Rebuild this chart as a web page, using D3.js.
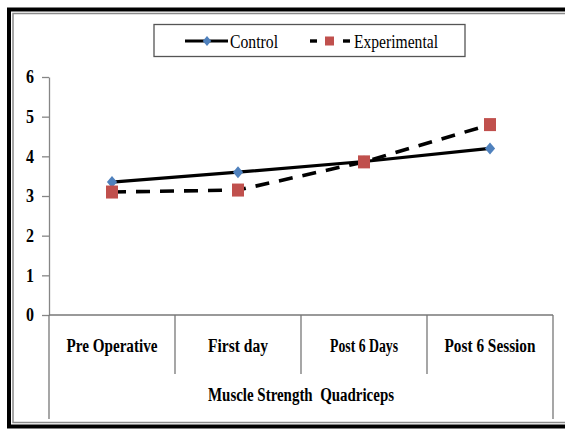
<!DOCTYPE html>
<html>
<head>
<meta charset="utf-8">
<script src="https://cdn.jsdelivr.net/npm/d3@7"></script>
<style>
  html, body { margin: 0; padding: 0; background: #fff; }
  svg { display: block; }
  text { font-family: "Liberation Serif", "Times New Roman", serif; fill: #000; }
</style>
</head>
<body>
<svg id="chart" width="565" height="429"></svg>
<script>
// chart values
const categories = ['Pre Operative', 'First day', 'Post 6 Days', 'Post 6 Session'];
const control = [3.35, 3.6, 3.87, 4.2];
const experimental = [3.1, 3.15, 3.86, 4.8];
const yTicks = [0, 1, 2, 3, 4, 5, 6];
const axisTitle = 'Muscle Strength  Quadriceps';

// label widths in the picture (text is drawn narrow)
const catWidths = [91, 60, 68, 91];

const svg = d3.select('#chart');
const plotLeft = 49, plotRight = 553, plotTop = 77, plotBottom = 315;

const x = d3.scaleBand().domain(categories).range([plotLeft, plotRight]).padding(0);
const y = d3.scaleLinear().domain([0, 6]).range([plotBottom, plotTop]);
const bw = x.bandwidth();
const cx = (d) => x(d) + bw / 2;

// frame
svg.append('rect')
  .attr('x', 9).attr('y', 9.5)
  .attr('width', 640).attr('height', 417)
  .attr('fill', 'none').attr('stroke', '#000').attr('stroke-width', 4);
svg.append('rect')
  .attr('x', 13).attr('y', 13.5)
  .attr('width', 640).attr('height', 409)
  .attr('fill', 'none').attr('stroke', '#8a8a8a').attr('stroke-width', 1.5);

// y axis
const yAxis = svg.append('g')
  .attr('transform', `translate(${plotLeft},0)`)
  .call(d3.axisLeft(y)
    .tickValues(yTicks)
    .tickFormat(d3.format('d'))
    .tickSize(7)
    .tickSizeOuter(0)
    .tickPadding(8));
yAxis.select('.domain').attr('stroke', '#868686').attr('stroke-width', 1.3);
yAxis.selectAll('.tick line').attr('stroke', '#868686').attr('stroke-width', 1.3);
yAxis.selectAll('.tick text')
  .attr('font-family', '"Liberation Serif", serif')
  .attr('font-size', 18)
  .attr('font-weight', 'bold')
  .attr('fill', '#000')
  .attr('dy', '0.33em')
  .attr('textLength', 8)
  .attr('lengthAdjust', 'spacingAndGlyphs');

// x axis as a table
const xg = svg.append('g').attr('stroke', '#777').attr('stroke-width', 1.3);
xg.append('line')
  .attr('x1', plotLeft).attr('x2', plotRight)
  .attr('y1', plotBottom).attr('y2', plotBottom);
const edges = categories.map(d => x(d)).concat([x.range()[1]]);
xg.selectAll('.div')
  .data(edges)
  .enter()
    .append('line')
    .attr('x1', d => d).attr('x2', d => d)
    .attr('y1', plotBottom)
    .attr('y2', (d, i) => (i === 0 || i === edges.length - 1) ? 419 : 374);

svg.selectAll('.cat')
  .data(categories)
  .enter()
    .append('text')
    .attr('x', d => cx(d))
    .attr('y', 352)
    .attr('text-anchor', 'middle')
    .attr('font-size', 18)
    .attr('font-weight', 'bold')
    .attr('textLength', (d, i) => catWidths[i])
    .attr('lengthAdjust', 'spacingAndGlyphs')
    .text(d => d);

svg.append('text')
  .attr('x', (plotLeft + plotRight) / 2)
  .attr('y', 401)
  .attr('text-anchor', 'middle')
  .attr('font-size', 18)
  .attr('font-weight', 'bold')
  .attr('textLength', 186)
  .attr('lengthAdjust', 'spacingAndGlyphs')
  .style('white-space', 'pre')
  .text(axisTitle);

// series
const line = d3.line()
  .x((d, i) => cx(categories[i]))
  .y(d => y(d));

const diamond = (s) => `M0,${-s}L${s * 0.85},0L0,${s}L${-s * 0.85},0Z`;

svg.append('path')
  .datum(control)
  .attr('d', line)
  .attr('fill', 'none')
  .attr('stroke', '#000')
  .attr('stroke-width', 3.2);
svg.selectAll('.ctl')
  .data(control)
  .enter()
    .append('path')
    .attr('d', diamond(6))
    .attr('transform', (d, i) => `translate(${cx(categories[i])},${y(d)})`)
    .attr('fill', '#4f81bd');

svg.append('path')
  .datum(experimental)
  .attr('d', line)
  .attr('fill', 'none')
  .attr('stroke', '#000')
  .attr('stroke-width', 3.6)
  .attr('stroke-dasharray', '14,10');
svg.selectAll('.exp')
  .data(experimental)
  .enter()
    .append('rect')
    .attr('x', (d, i) => cx(categories[i]) - 6)
    .attr('y', d => y(d) - 6.5)
    .attr('width', 12).attr('height', 13)
    .attr('fill', '#c0504d');

// legend
const lg = svg.append('g');
lg.append('rect')
  .attr('x', 154).attr('y', 24.5)
  .attr('width', 311).attr('height', 32)
  .attr('fill', '#fff').attr('stroke', '#555').attr('stroke-width', 1.3);
lg.append('line')
  .attr('x1', 185).attr('x2', 228).attr('y1', 41).attr('y2', 41)
  .attr('stroke', '#000').attr('stroke-width', 3);
lg.append('path')
  .attr('d', diamond(5))
  .attr('transform', 'translate(207,41)')
  .attr('fill', '#4f81bd');
lg.append('text')
  .attr('x', 230).attr('y', 47.5)
  .attr('font-size', 19)
  .attr('textLength', 48)
  .attr('lengthAdjust', 'spacingAndGlyphs')
  .text('Control');

[[310, 317], [343, 350]].forEach(([a, b]) => {
  lg.append('line')
    .attr('x1', a).attr('x2', b).attr('y1', 41).attr('y2', 41)
    .attr('stroke', '#000').attr('stroke-width', 3.4);
});
lg.append('rect')
  .attr('x', 325).attr('y', 36.5)
  .attr('width', 9).attr('height', 9)
  .attr('fill', '#c0504d');
lg.append('text')
  .attr('x', 354).attr('y', 47.5)
  .attr('font-size', 19)
  .attr('textLength', 84)
  .attr('lengthAdjust', 'spacingAndGlyphs')
  .text('Experimental');
</script>
</body>
</html>
